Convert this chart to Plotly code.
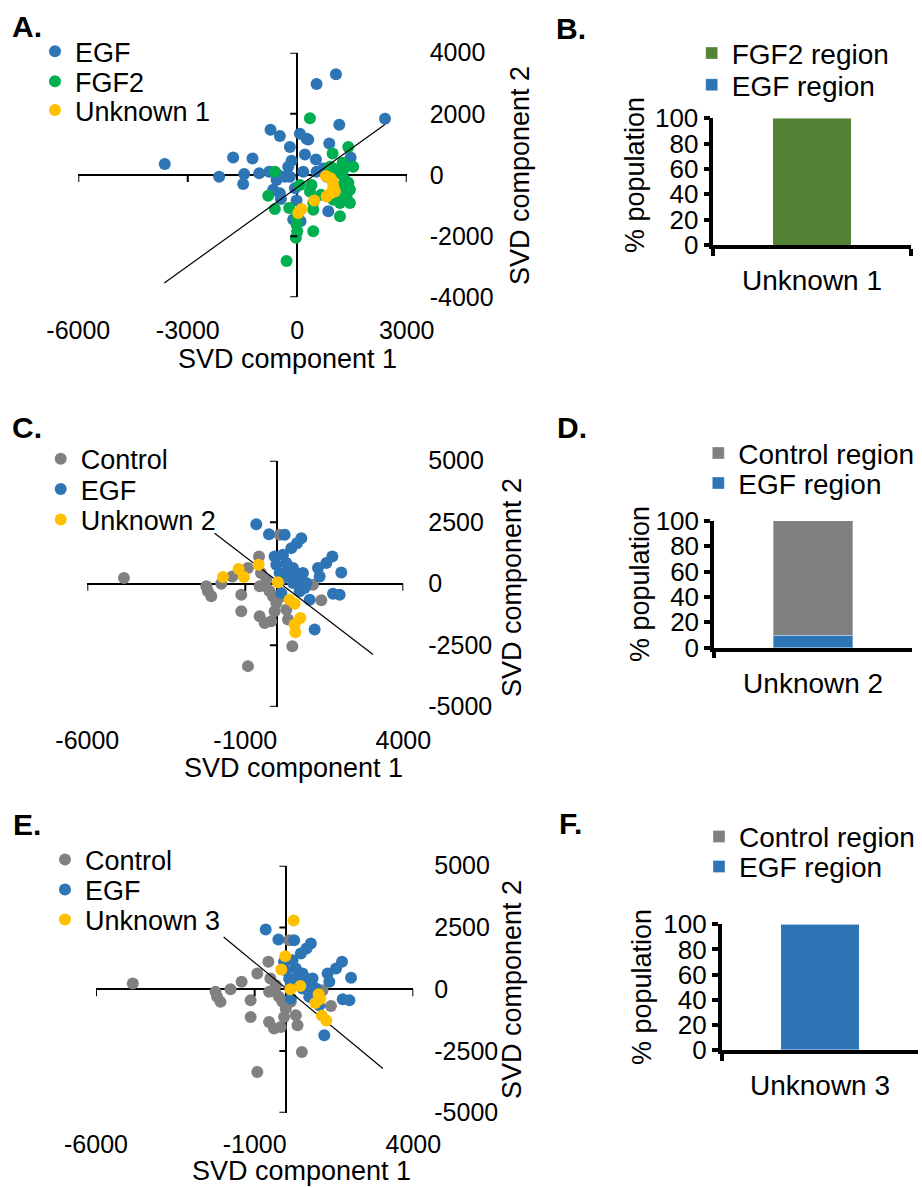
import plotly.graph_objects as go

# ---------------- data ----------------
# Panel A (SVD scatter: EGF vs FGF2, Unknown 1)
egf_a_x = [-3631, -2140, -1756, -1226, -1454, -1482, -1043, -732, -476, -768, -521, -659, -476, -448,
           -201, -155, -247, -338, -201, 73, 256, 302, 210, 165, -64, -18, -110, 91, 530, 1061, 1152,
           2405, 878, 512, 530, 713, 1463, 851, -567]
egf_a_y = [357, -54, 573, 540, 32, -292, 54, 1481, 1276, 108, 0, -486, -595, -789,
           919, 465, 270, -54, -54, 1351, 1189, 1157, 670, 108, -432, -832, -1459, -1513, 2973, 3297, 1643,
           1838, 1027, 508, 108, 216, 573, -1189, -162]
fgf2_a_x = [348, 1399, 969, 1536, 1244, 988, 1152, 1308, 1445, 1353, 1445, 1171, 988, 1171, 439, 439,
            439, 393, 348, 73, -613, -796, -613, -220, -18, -18, 0, -37, -293, 805, 1079, 1262, 1125,
            896, 1262, 942, 1400, 650]
fgf2_a_y = [1859, 919, 703, 270, 400, 216, 54, -162, -486, -703, -919, -919, -811, -1351, -919, -1135,
            -1838, -324, -541, -324, 108, -681, -1113, -1081, -1351, -1622, -1838, -2054, -2811, -54, -378, -486, -595,
            270, 162, -703, -250, -650]
unk1_x = [787, 915, 988, 915, 805, 1033, 466, 119, 27, 970]
unk1_y = [-32, -108, -378, -595, -703, -541, -832, -1113, -1243, -216]
line_a_x = [-3644, 2403]
line_a_y = [-3533, 1654]

# Panels C and E (Control vs EGF reference populations)
ctrl_x = [-4840, -2234, -2182, -2076, -1760, -1411, -916, -1127, -1127, -567, -504, -546, -356, -546,
          -388, -177, -72, -124, -19, 298, 351, 488, -916, 87, 1142, 1405, -335, 140, -230]
ctrl_y = [230, -108, -311, -513, 0, 297, 635, -446, -1121, 1108, 432, -108, -108, -1324,
          -1594, -1527, -1121, -513, -784, -1054, -1459, -2540, -3351, 1986, -41, -676, 162, -513, -311]
egf_c_x = [-652, -251, 245, 772, 635, 456, -72, 192, -19, 298, 509, 614, 403, 140, 509, 931, 720, 140,
           1036, 1194, 1754, 1564, 1300, 1353, 2038, 1775, 1986, 825, 667, 351, 878, 87]
egf_c_y = [2418, 2013, 1986, 1851, 1648, 1446, 1108, 1175, 770, 838, 635, 432, 297, 162, 27, 27, -311, -378,
           -648, -1864, 1108, 838, 635, 297, 459, -405, -446, 432, 95, 500, -176, 432]
unk2_x = [-1707, -1211, -1042, -578, 34, 403, 561, 741, 561, 582]
unk2_y = [270, 594, 270, 770, 54, -648, -811, -1392, -1662, -1972]
line_c_x = [-1971, 3041]
line_c_y = [2053, -2878]
unk3_x = [229, -34, -160, 124, 439, 1016, 1069, 911, 1121, 1258]
unk3_y = [2781, 1337, 802, 0, 134, -201, -401, -562, -1070, -1270]
line_e_x = [-1977, 3043]
line_e_y = [2112, -3209]

# Bar panels (% population)
cat_b = ["Unknown 1"]
b_egf = [0]
b_fgf2 = [100]
cat_d = ["Unknown 2"]
d_egf = [10]
d_ctrl = [90]
cat_f = ["Unknown 3"]
f_egf = [100]
f_ctrl = [0]

# tick labels
ticks_a_x = [-6000, -3000, 0, 3000]
ticks_a_y = [-4000, -2000, 0, 2000, 4000]
ticks_ce_x = [-6000, -1000, 4000]
ticks_ce_y = [-5000, -2500, 0, 2500, 5000]
ticks_bar_y = [0, 20, 40, 60, 80, 100]

# ---------------- styling ----------------
FONT = "Liberation Sans, Arial, sans-serif"
W, H = 922, 1187
C_EGF = "#2E75B6"
C_FGF2 = "#00B050"
C_UNK = "#FFC000"
C_CTRL = "#808080"
C_BAR_FGF2 = "#548235"
MS = 12


def fx(p):
    return p / W


def fy(p):
    return 1 - p / H


fig = go.Figure()
legends = {}


def make_legend(lid, text_x, row_y, size):
    legends[lid] = dict(x=fx(text_x - 41), y=fy(row_y), xanchor="left", yanchor="middle",
                        bgcolor="rgba(0,0,0,0)", font=dict(size=size, family=FONT, color="black"),
                        itemclick=False, itemdoubleclick=False)


def add_pts(x, y, name, color, n, leg):
    fig.add_trace(go.Scatter(x=x, y=y, mode="markers", name=name,
                             marker=dict(color=color, size=MS, line=dict(width=0)),
                             xaxis="x" if n == 1 else f"x{n}", yaxis="y" if n == 1 else f"y{n}",
                             legend=leg))


def add_line(x, y, n):
    fig.add_trace(go.Scatter(x=x, y=y, mode="lines", line=dict(color="black", width=1.2),
                             showlegend=False, hoverinfo="skip",
                             xaxis="x" if n == 1 else f"x{n}", yaxis="y" if n == 1 else f"y{n}"))


# Panel A
add_pts(egf_a_x, egf_a_y, "EGF", C_EGF, 1, "legend")
add_pts(fgf2_a_x, fgf2_a_y, "FGF2", C_FGF2, 1, "legend2")
add_line(line_a_x, line_a_y, 1)
add_pts(unk1_x, unk1_y, "Unknown 1", C_UNK, 1, "legend3")
make_legend("legend", 76, 51.7, 27)
make_legend("legend2", 76, 81.7, 27)
make_legend("legend3", 76, 110.5, 27)

# Panel C
add_pts(ctrl_x, ctrl_y, "Control", C_CTRL, 3, "legend4")
add_pts(egf_c_x, egf_c_y, "EGF", C_EGF, 3, "legend5")
add_line(line_c_x, line_c_y, 3)
add_pts(unk2_x, unk2_y, "Unknown 2", C_UNK, 3, "legend6")
make_legend("legend4", 81.7, 459.3, 27)
make_legend("legend5", 81.7, 489.5, 27)
make_legend("legend6", 81.7, 520, 27)

# Panel E
add_pts(ctrl_x, ctrl_y, "Control", C_CTRL, 5, "legend7")
add_pts(egf_c_x, egf_c_y, "EGF", C_EGF, 5, "legend8")
add_line(line_e_x, line_e_y, 5)
add_pts(unk3_x, unk3_y, "Unknown 3", C_UNK, 5, "legend9")
make_legend("legend7", 86, 860, 27)
make_legend("legend8", 86, 890, 27)
make_legend("legend9", 86, 920, 27)

bar_line = dict(color="rgba(255,255,255,0.35)", width=1)
# Panel B
fig.add_trace(go.Bar(x=cat_b, y=b_egf, name="EGF region", width=0.4,
                     marker=dict(color=C_EGF, line=bar_line), xaxis="x2", yaxis="y2", legend="legend11"))
fig.add_trace(go.Bar(x=cat_b, y=b_fgf2, name="FGF2 region", width=0.4,
                     marker=dict(color=C_BAR_FGF2, line=bar_line), xaxis="x2", yaxis="y2", legend="legend10"))
make_legend("legend10", 732.7, 53.3, 28)
make_legend("legend11", 732.7, 85, 28)
# Panel D
fig.add_trace(go.Bar(x=cat_d, y=d_egf, name="EGF region", width=0.4,
                     marker=dict(color=C_EGF, line=bar_line), xaxis="x4", yaxis="y4", legend="legend13"))
fig.add_trace(go.Bar(x=cat_d, y=d_ctrl, name="Control region", width=0.4,
                     marker=dict(color=C_CTRL, line=bar_line), xaxis="x4", yaxis="y4", legend="legend12"))
make_legend("legend12", 739.3, 453.3, 28)
make_legend("legend13", 739.3, 483.3, 28)
# Panel F
fig.add_trace(go.Bar(x=cat_f, y=f_egf, name="EGF region", width=0.4,
                     marker=dict(color=C_EGF, line=bar_line), xaxis="x6", yaxis="y6", legend="legend15"))
fig.add_trace(go.Bar(x=cat_f, y=f_ctrl, name="Control region", width=0.4,
                     marker=dict(color=C_CTRL, line=bar_line), xaxis="x6", yaxis="y6", legend="legend14"))
make_legend("legend14", 740, 836.7, 28)
make_legend("legend15", 740, 866.7, 28)


# ---------------- axes ----------------
def sc_x(dom, anchor, rng, tv, standoff):
    return dict(domain=dom, anchor=anchor, range=rng, tickvals=tv, ticktext=[str(v) for v in tv],
                showgrid=False, showline=False, ticks="", zeroline=True, zerolinecolor="black",
                zerolinewidth=2, tickfont=dict(size=25, color="black"), ticklabelstandoff=standoff,
                automargin=False, fixedrange=True)


def sc_y(dom, anchor, rng, tv, standoff):
    return dict(domain=dom, anchor=anchor, range=rng, tickvals=tv, ticktext=[str(v) for v in tv],
                side="right", showgrid=False, showline=False, ticks="", zeroline=True,
                zerolinecolor="black", zerolinewidth=2, tickfont=dict(size=25, color="black"),
                ticklabelstandoff=standoff, automargin=False, fixedrange=True)


def bar_x(dom, anchor):
    return dict(domain=dom, anchor=anchor, type="category", range=[-0.5, 0.5], showline=True,
                linecolor="black", linewidth=3.5, ticks="outside", tickson="boundaries", ticklen=7,
                tickwidth=3.5, tickcolor="black", tickfont=dict(size=28, color="black"),
                ticklabelstandoff=8, showgrid=False, zeroline=False, automargin=False, fixedrange=True)


def bar_y(dom, anchor):
    return dict(domain=dom, anchor=anchor, range=[0, 100], tickvals=ticks_bar_y, showline=True,
                linecolor="black", linewidth=3.5, ticks="outside", ticklen=6, tickwidth=3.5,
                tickcolor="black", tickfont=dict(size=26, color="black"), showgrid=False,
                zeroline=False, automargin=False, fixedrange=True)


layout = dict(
    width=W, height=H, margin=dict(l=0, r=0, t=0, b=0, autoexpand=False),
    paper_bgcolor="white", plot_bgcolor="white", barmode="stack",
    font=dict(family=FONT, color="black"),
    xaxis=sc_x([fx(78.3), fx(406.7)], "y", [-6000, 3000], ticks_a_x, 16),
    yaxis=sc_y([fy(297.3), fy(52.7)], "x", [-4000, 4000], ticks_a_y, 22),
    xaxis3=sc_x([fx(87.3), fx(403.3)], "y3", [-6000, 4000], ticks_ce_x, 16),
    yaxis3=sc_y([fy(706.7), fy(460.7)], "x3", [-5000, 5000], ticks_ce_y, 24),
    xaxis5=sc_x([fx(96), fx(413.3)], "y5", [-6000, 4000], ticks_ce_x, 14),
    yaxis5=sc_y([fy(1112.7), fy(865.7)], "x5", [-5000, 5000], ticks_ce_y, 20),
    xaxis2=bar_x([fx(713.3), fx(910.7)], "y2"),
    yaxis2=bar_y([fy(245), fy(118.3)], "x2"),
    xaxis4=bar_x([fx(714), fx(912.3)], "y4"),
    yaxis4=bar_y([fy(647.7), fy(520.7)], "x4"),
    xaxis6=bar_x([fx(721.7), fx(918.3)], "y6"),
    yaxis6=bar_y([fy(1050), fy(924.3)], "x6"),
    showlegend=True,
)
layout.update(legends)
fig.update_layout(**layout)


# ---------------- tick marks on crossing axes ----------------
def cross_ticks(n, xt, yt):
    xr = "x" if n == 1 else f"x{n}"
    yr = "y" if n == 1 else f"y{n}"
    for v in xt:
        if v == 0:
            continue
        fig.add_shape(type="line", xref=xr, yref=yr, x0=v, x1=v, ysizemode="pixel", yanchor=0,
                      y0=0, y1=-7, line=dict(color="black", width=2))
    for v in yt:
        if v == 0:
            continue
        fig.add_shape(type="line", xref=xr, yref=yr, y0=v, y1=v, xsizemode="pixel", xanchor=0,
                      x0=0, x1=-7, line=dict(color="black", width=2))


cross_ticks(1, ticks_a_x, ticks_a_y)
cross_ticks(3, ticks_ce_x, ticks_ce_y)
cross_ticks(5, ticks_ce_x, ticks_ce_y)


# ---------------- text: axis titles and panel letters ----------------
def ann(text, x, y, size, angle=0, bold=False):
    fig.add_annotation(text=f"<b>{text}</b>" if bold else text, x=fx(x), y=fy(y), xref="paper",
                       yref="paper", showarrow=False, textangle=angle, xanchor="center",
                       yanchor="middle", font=dict(size=size, family=FONT, color="black"))


ann("SVD component 1", 287.5, 359, 27)
ann("SVD component 2", 520, 176, 27, -90)
ann("SVD component 1", 293, 768, 27)
ann("SVD component 2", 512, 588, 27, -90)
ann("SVD component 1", 301, 1171, 27)
ann("SVD component 2", 512, 990, 27, -90)
ann("% population", 635, 175, 27, -90)
ann("% population", 640, 584, 27, -90)
ann("% population", 642, 987, 27, -90)

for letter, x, y in [("A.", 27, 26), ("B.", 571, 28), ("C.", 27, 427), ("D.", 572, 427),
                     ("E.", 27, 824), ("F.", 570, 823)]:
    ann(letter, x, y, 30, bold=True)

fig.write_html("out.html", config={"displayModeBar": False},
               post_script="document.body.style.margin='0px';")
